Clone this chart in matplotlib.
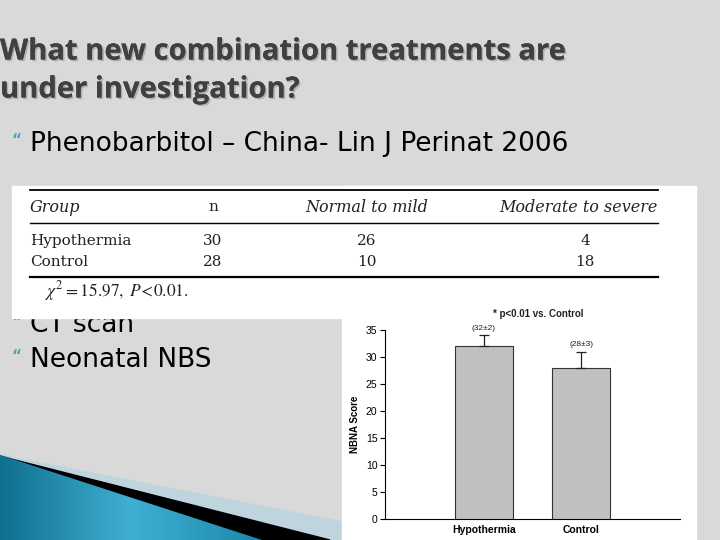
import matplotlib
matplotlib.use("Agg")
import matplotlib.pyplot as plt
import matplotlib.patches as patches
import matplotlib.patheffects as pe
import numpy as np

# slide text
title_lines = ["What new combination treatments are", "under investigation?"]
bullets = ["Phenobarbitol \u2013 China- Lin J Perinat 2006", "CT scan", "Neonatal NBS"]

# table data (Lin J Perinat 2006)
table_header = ["Group", "n", "Normal to mild", "Moderate to severe"]
table_groups = ["Hypothermia", "Control"]
table_n = [30, 28]
normal_mild = [26, 10]
mod_severe = [4, 18]
chi_note = r"$\chi^2 = 15.97,\ P\!<\!0.01.$"

# bar chart data
groups = ["Hypothermia", "Control"]
nbna_mean = [32, 28]
nbna_sd = [2, 3]
yticks = [0, 5, 10, 15, 20, 25, 30, 35]

plt.rcParams['mathtext.fontset'] = 'stix'

fig = plt.figure(figsize=(7.2, 5.4), dpi=100)
fig.patch.set_facecolor('#d9d9d9')

# background axes in pixel coords
bg = fig.add_axes([0, 0, 1, 1])
bg.set_xlim(0, 720)
bg.set_ylim(540, 0)
bg.axis('off')

# bottom-left decoration
light = patches.Polygon([(0, 455), (342, 522), (342, 540), (0, 540)], closed=True,
                        color='#bfd5de', zorder=1)
bg.add_patch(light)
black = patches.Polygon([(15, 460), (330, 540), (0, 540), (0, 456)], closed=True,
                        color='black', zorder=2)
bg.add_patch(black)
teal = patches.Polygon([(0, 455), (262, 540), (0, 540)], closed=True, color='none', zorder=3)
bg.add_patch(teal)
grad = np.linspace(0, 1, 256).reshape(1, -1)
cm = matplotlib.colors.LinearSegmentedColormap.from_list('t', ['#0f6f8e', '#3fb0d3', '#1a88aa'])
im = bg.imshow(grad, extent=(0, 262, 540, 455), cmap=cm, aspect='auto', zorder=3)
im.set_clip_path(teal)

# title
for i, line in enumerate(title_lines):
    bg.text(0, 52 + i * 38, line, fontsize=21, fontweight='bold', family='Open Sans',
            color='#404040', va='center', ha='left', zorder=5,
            path_effects=[pe.withSimplePatchShadow(offset=(1.2, -1.2), alpha=0.2),
                          pe.Normal()])

# bullets
bullet_y = [144, 325, 360]
for txt, y in zip(bullets, bullet_y):
    bg.text(11, y - 3, "\u201c", fontsize=11, color='#4aa3c0', fontweight='bold',
            va='center', ha='left', zorder=5)
    bg.text(30, y, txt, fontsize=19, family='DejaVu Sans', color='black',
            va='center', ha='left', zorder=5)

# white image panels (table + chart)
bg.add_patch(patches.Rectangle((12, 186), 648, 132, color='white', zorder=6))
bg.add_patch(patches.Rectangle((342, 186), 354, 354, color='white', zorder=6))

# table
for y, lw in [(190, 1.3), (223, 1.0), (277, 1.6)]:
    bg.plot([30, 658], [y, y], color='black', lw=lw, zorder=7)
serif = 'DejaVu Serif'
tcol = '#222222'
bg.text(30, 207, table_header[0], fontsize=11.5, family=serif, style='italic',
        va='center', ha='left', zorder=7, color=tcol)
bg.text(213, 207, table_header[1], fontsize=11, family=serif,
        va='center', ha='center', zorder=7, color=tcol)
bg.text(367, 207, table_header[2], fontsize=11.5, family=serif, style='italic',
        va='center', ha='center', zorder=7, color=tcol)
bg.text(658, 207, table_header[3], fontsize=11.5, family=serif, style='italic',
        va='center', ha='right', zorder=7, color=tcol)
for i, g in enumerate(table_groups):
    y = 241 + i * 21
    bg.text(30, y, g, fontsize=11, family=serif, va='center', ha='left', zorder=7, color=tcol)
    bg.text(213, y, str(table_n[i]), fontsize=11, family=serif, va='center', ha='center', zorder=7, color=tcol)
    bg.text(367, y, str(normal_mild[i]), fontsize=11, family=serif, va='center', ha='center', zorder=7, color=tcol)
    bg.text(585, y, str(mod_severe[i]), fontsize=11, family=serif, va='center', ha='center', zorder=7, color=tcol)
bg.text(45, 291, chi_note, fontsize=12.5, va='center', ha='left', zorder=7, color=tcol)

# chart caption
bg.text(538, 314, "* p<0.01 vs. Control", fontsize=7, family='Liberation Sans',
        fontweight='bold', va='center', ha='center', zorder=7, color=tcol)

# bar chart axes
ax = fig.add_axes([385 / 720, 21 / 540, 295 / 720, 189 / 540])
ax.patch.set_visible(False)
x = np.arange(len(groups))
ax.bar(x, nbna_mean, width=0.6, color='#c0c0c0', edgecolor='#333333', linewidth=0.8,
       yerr=[np.zeros(len(nbna_sd)), nbna_sd], capsize=3.5,
       error_kw=dict(ecolor='#222222', elinewidth=0.9, capthick=0.9), zorder=3)
for xi, m, s in zip(x, nbna_mean, nbna_sd):
    ax.annotate("(%d\u00b1%d)" % (m, s), (xi, m + s), xytext=(0, 2.5), textcoords='offset points',
                ha='center', va='bottom', fontsize=6, family='Liberation Sans', color=tcol)
ax.set_xlim(-1.02, 2.02)
ax.set_ylim(0, 35)
ax.set_yticks(yticks)
ax.set_xticks(x)
ax.set_xticklabels(groups, fontsize=7.5, fontweight='bold', family='Liberation Sans')
ax.tick_params(axis='x', length=0, pad=4)
ax.tick_params(axis='y', length=3.5, width=0.8, labelsize=7.5, pad=2)
for lab in ax.get_yticklabels():
    lab.set_family('Liberation Sans')
ax.set_ylabel("NBNA Score", fontsize=7, fontweight='bold', family='Liberation Sans', labelpad=4)
for sp in ['top', 'right']:
    ax.spines[sp].set_visible(False)
ax.spines['left'].set_linewidth(0.8)
ax.spines['bottom'].set_linewidth(0.8)

fig.savefig('out.png', dpi=100, facecolor=fig.get_facecolor())
